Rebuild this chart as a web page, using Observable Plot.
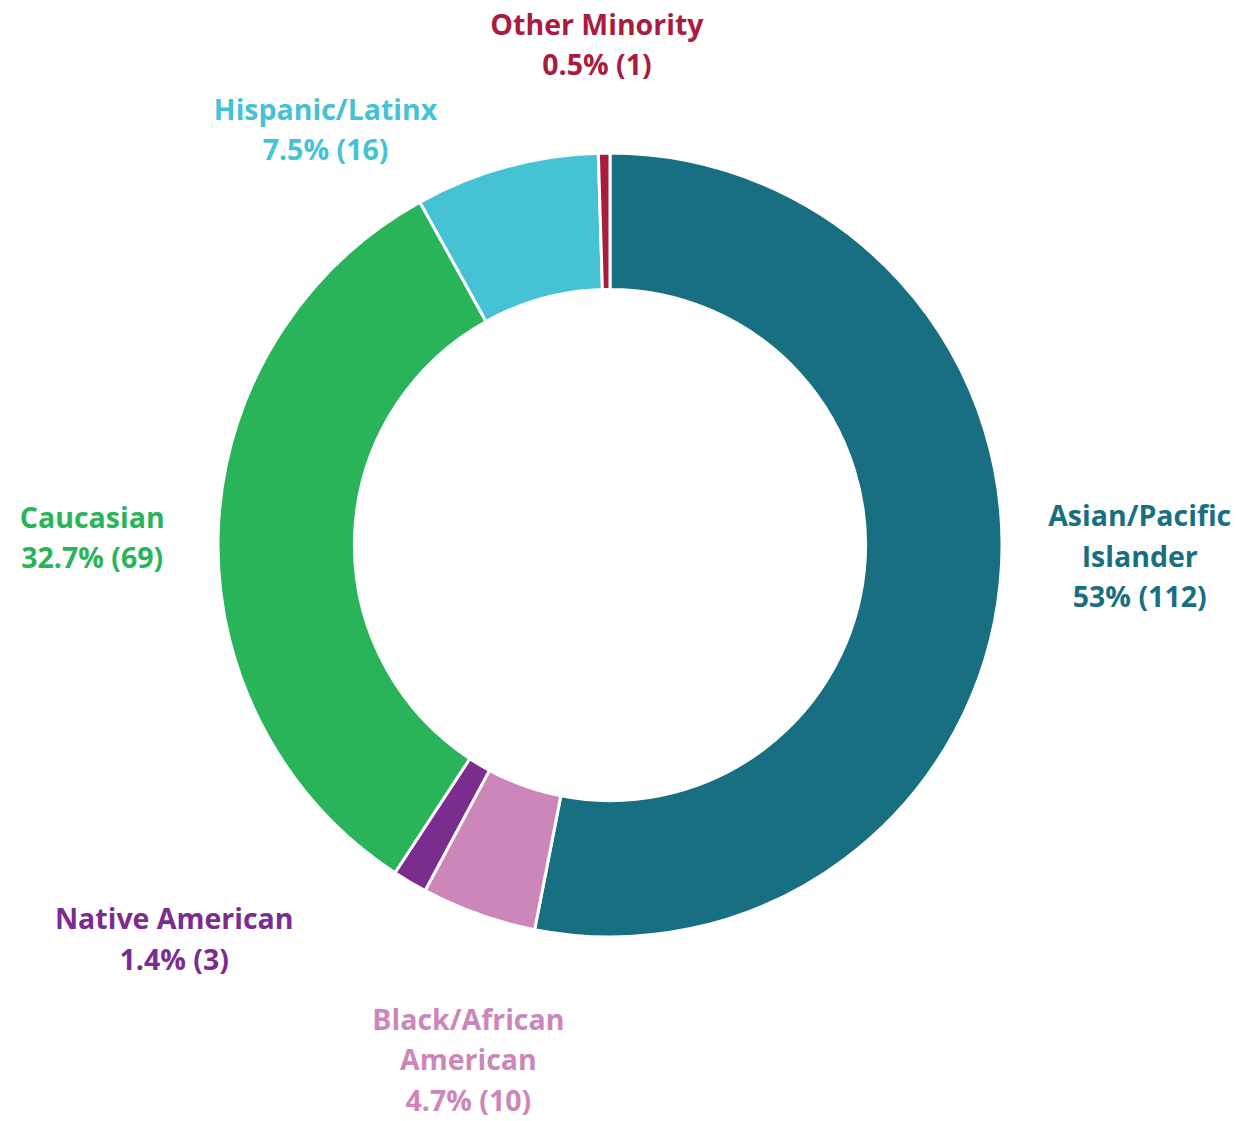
<!DOCTYPE html>
<html>
<head>
<meta charset="utf-8">
<script src="https://cdn.jsdelivr.net/npm/d3@7"></script>
<script src="https://cdn.jsdelivr.net/npm/@observablehq/plot@0.6"></script>
<style>
  html, body { margin: 0; padding: 0; background: #fff; }
  #chart svg { display: block; }
</style>
</head>
<body>
<div id="chart"></div>
<script>
// ---- data ----
const categories = ["Asian/Pacific Islander", "Black/African American", "Native American", "Caucasian", "Hispanic/Latinx", "Other Minority"];
const labelNames = ["Asian/Pacific\nIslander", "Black/African\nAmerican", "Native American", "Caucasian", "Hispanic/Latinx", "Other Minority"];
const counts = [112, 10, 3, 69, 16, 1];
const percents = ["53", "4.7", "1.4", "32.7", "7.5", "0.5"];
const colors = ["#186F82", "#CD86BA", "#7B2C8F", "#2AB45A", "#45C2D3", "#A91C3F"];

// ---- layout ----
const W = 1250, H = 1121;
const R = 392;            // outer radius in px (1 unit)
const cxPx = 610, cyPx = 545;
const innerRatio = 0.652;
const labelR = 1.3;
// pixel nudges applied to the radial label anchor (avoid collisions like the original)
const nudge = {
  "Asian/Pacific Islander": [22, -41],
  "Black/African American": [29, 32],
  "Native American": [-176, -47],
  "Caucasian": [-9, 9],
  "Hispanic/Latinx": [-150, 73],
  "Other Minority": [-6, 6]
};

const rows = categories.map((c, i) => ({category: c, name: labelNames[i], count: counts[i], pct: percents[i]}));
const arcs = d3.pie().sort(null).value(d => d.count)(rows);
const labels = arcs.map(a => {
  const m = (a.startAngle + a.endAngle) / 2;
  const [nx, ny] = nudge[a.data.category];
  return {
    category: a.data.category,
    text: `${a.data.name}\n${a.data.pct}% (${a.data.count})`,
    x: labelR * Math.sin(m) + nx / R,
    y: -labelR * Math.cos(m) + ny / R
  };
});

const donut = (index, scales) => {
  const x0 = scales.x(0), y0 = scales.y(0);
  const ro = scales.x(1) - x0;
  const ri = scales.x(innerRatio) - x0;
  const arc = d3.arc().innerRadius(ri).outerRadius(ro);
  const g = d3.create("svg:g").attr("transform", `translate(${x0},${y0})`);
  g.selectAll("path").data(arcs).join("path")
    .attr("d", arc)
    .attr("fill", d => scales.color(d.data.category))
    .attr("stroke", "#fff")
    .attr("stroke-width", 3)
    .attr("stroke-linejoin", "miter");
  return g.node();
};

const chart = Plot.plot({
  width: W,
  height: H,
  margin: 0,
  style: {fontFamily: "'Open Sans', Lato, sans-serif", background: "#fff"},
  x: {type: "linear", domain: [-cxPx / R, (W - cxPx) / R], range: [0, W], axis: null},
  y: {type: "linear", domain: [-cyPx / R, (H - cyPx) / R], range: [0, H], axis: null},
  color: {domain: categories, range: colors},
  marks: [
    donut,
    Plot.text(labels, {
      x: "x", y: "y", text: "text", fill: "category",
      fontSize: 28.5, fontWeight: 700, lineHeight: 1.41,
      textAnchor: "middle", lineAnchor: "middle"
    })
  ]
});
document.getElementById("chart").appendChild(chart);
</script>
</body>
</html>
